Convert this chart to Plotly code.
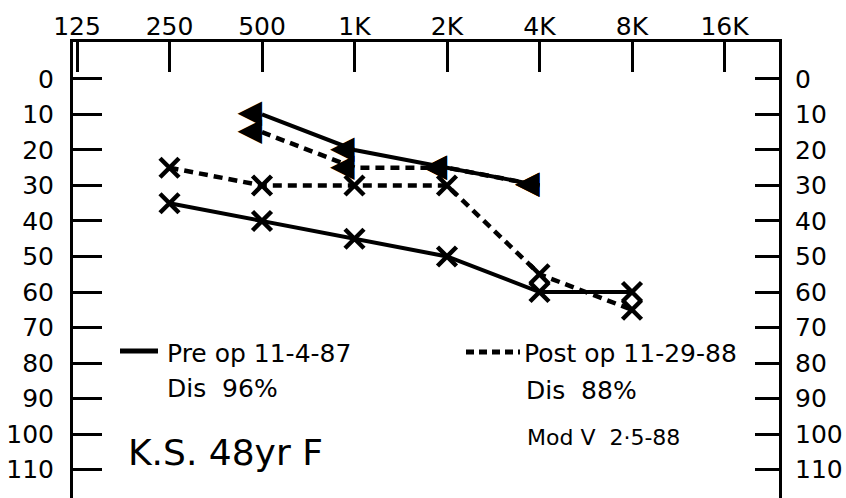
import math
import plotly.graph_objects as go

# ---------------- data ----------------
freq_ticks = [125, 250, 500, 1000, 2000, 4000, 8000, 16000]
freq_labels = ["125", "250", "500", "1K", "2K", "4K", "8K", "16K"]
db_ticks = [0, 10, 20, 30, 40, 50, 60, 70, 80, 90, 100, 110]

ac_freq = [250, 500, 1000, 2000, 4000, 8000]
pre_ac = [35, 40, 45, 50, 60, 60]      # solid X
post_ac = [25, 30, 30, 30, 55, 65]     # dashed X

bc_freq = [500, 1000, 2000, 4000]
pre_bc = [10, 20, 25, 30]              # solid triangles
post_bc = [15, 25, 25, 30]             # dashed triangles

# ---------------- layout geometry ----------------
W, H = 846, 498
ML, MR, MT, MB = 73, 67, 42, 0
plot_w = W - ML - MR
plot_h = H - MT - MB
px_per_oct = 92.5
lo = math.log10(125) - (4 / px_per_oct) * math.log10(2)
hi = lo + (plot_w / px_per_oct) * math.log10(2)
y_range = [118.0, -10.4]

FONT = "DejaVu Sans"
BLACK = "black"

def px(xp):
    return (xp - ML) / plot_w

def py(yp):
    return (H - MB - yp) / plot_h

fig = go.Figure()

x_marker = dict(symbol="x-thin", size=19, color=BLACK,
                line=dict(width=4.5, color=BLACK))

fig.add_trace(go.Scatter(x=ac_freq, y=pre_ac, mode="lines+markers",
                         line=dict(color=BLACK, width=4),
                         marker=x_marker, showlegend=False, hoverinfo="skip"))
fig.add_trace(go.Scatter(x=ac_freq, y=post_ac, mode="lines+markers",
                         line=dict(color=BLACK, width=4.5, dash="9px,6px"),
                         marker=x_marker, showlegend=False, hoverinfo="skip"))
fig.add_trace(go.Scatter(x=bc_freq, y=pre_bc, mode="lines+text",
                         text=["◀"] * len(bc_freq), textposition="middle left",
                         textfont=dict(family=FONT, size=32, color=BLACK),
                         line=dict(color=BLACK, width=4),
                         showlegend=False, hoverinfo="skip"))
fig.add_trace(go.Scatter(x=bc_freq, y=post_bc, mode="lines+text",
                         text=["◀"] * len(bc_freq), textposition="middle left",
                         textfont=dict(family=FONT, size=32, color=BLACK),
                         line=dict(color=BLACK, width=4.5, dash="9px,6px"),
                         showlegend=False, hoverinfo="skip"))
# empty trace to keep the right-hand axis alive
fig.add_trace(go.Scatter(x=[], y=[], yaxis="y2", showlegend=False,
                         hoverinfo="skip"))

tickfont = dict(family=FONT, size=25, color=BLACK)

fig.update_layout(
    width=W, height=H,
    margin=dict(l=ML, r=MR, t=MT, b=MB, pad=0, autoexpand=False),
    paper_bgcolor="white", plot_bgcolor="white",
    font=dict(family=FONT, color=BLACK),
    xaxis=dict(type="log", side="top", range=[lo, hi], automargin=False,
               tickvals=freq_ticks, ticktext=freq_labels,
               ticks="inside", ticklen=30, tickwidth=3, tickcolor=BLACK,
               showline=True, linewidth=3, linecolor=BLACK,
               showgrid=False, zeroline=False, tickfont=tickfont,
               ticklabelstandoff=-6),
    yaxis=dict(range=y_range, tickvals=db_ticks, automargin=False,
               ticks="inside", ticklen=29, tickwidth=3, tickcolor=BLACK,
               showline=True, linewidth=3, linecolor=BLACK,
               showgrid=False, zeroline=False, tickfont=tickfont,
               ticklabelstandoff=11),
    yaxis2=dict(range=y_range, tickvals=db_ticks, overlaying="y", side="right",
                automargin=False,
                ticks="inside", ticklen=24, tickwidth=3, tickcolor=BLACK,
                showline=True, linewidth=3, linecolor=BLACK,
                showgrid=False, zeroline=False, tickfont=tickfont,
                ticklabelstandoff=8),
)

def note(text, xp, yp, size=25):
    fig.add_annotation(text=text, x=px(xp), y=py(yp), xref="paper", yref="paper",
                       xanchor="left", yanchor="middle", showarrow=False,
                       font=dict(family=FONT, size=size, color=BLACK))

note("Pre op 11-4-87", 165, 353)
note("Dis  96%", 165, 388)
note("Post op 11-29-88", 522, 353)
note("Dis  88%", 524, 390)
note("Mod Ⅴ  2·5-88", 525, 437, size=22)
note("K.S. 48yr F", 126, 452, size=36)

fig.add_shape(type="line", xref="paper", yref="paper",
              x0=px(120), x1=px(158), y0=py(351), y1=py(351),
              line=dict(color=BLACK, width=5))
fig.add_shape(type="line", xref="paper", yref="paper",
              x0=px(466), x1=px(520), y0=py(352), y1=py(352),
              line=dict(color=BLACK, width=5, dash="8px,5px"))

fig.write_html("out.html",
               config={"displayModeBar": False, "staticPlot": True},
               post_script="document.body.style.margin='0px';"
                           "document.body.style.overflow='hidden';")
